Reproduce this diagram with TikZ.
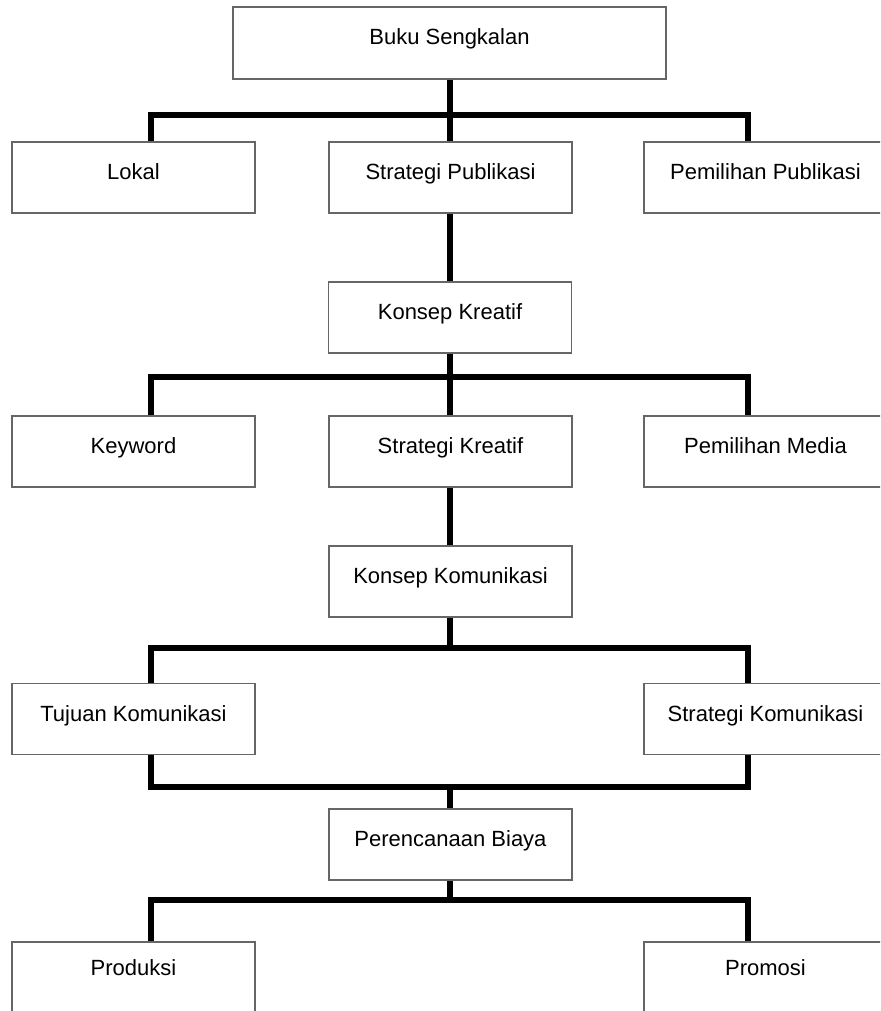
\documentclass[tikz,border=0pt]{standalone}
\usepackage{fontspec}
\setmainfont{Liberation Sans}
\begin{document}
\begin{tikzpicture}[x=1pt,y=-1pt,
  box/.style={draw=black!60, line width=1.8pt, fill=white,
    minimum width=243pt, minimum height=71pt, inner sep=0pt,
    font=\fontsize{22}{26}\selectfont, text=black,
    text height=10pt, text depth=6pt},
  lowtext/.style={text height=2pt, text depth=7pt},
  conn/.style={line width=6pt, line join=miter}]
\path[use as bounding box, clip] (0,0) rectangle (880,1011);
\fill[white] (0,0) rectangle (880,1011);
% column and bar positions
\coordinate (xl) at (151,0);
\coordinate (xc) at (449.5,0);
\coordinate (xr) at (748,0);
\coordinate (y1) at (0,115);
\coordinate (y2) at (0,377);
\coordinate (y3) at (0,648);
\coordinate (y4) at (0,787);
\coordinate (y5) at (0,900);
% nodes
\node[box, minimum width=433pt, minimum height=72pt] (top) at (449.5,43) {Buku Sengkalan};
\node[box] (lokal) at (133.5,177.5) {Lokal};
\node[box] (sp) at (450.5,177.5) {Strategi Publikasi};
\node[box] (pp) at (765.5,177.5) {Pemilihan Publikasi};
\node[box] (kk) at (450,317.5) {Konsep Kreatif};
\node[box] (kw) at (133.5,451.5) {Keyword};
\node[box] (sk) at (450.5,451.5) {Strategi Kreatif};
\node[box] (pm) at (765.5,451.5) {Pemilihan Media};
\node[box] (kkom) at (450.5,581.5) {Konsep Komunikasi};
\node[box] (tk) at (133.5,719) {Tujuan Komunikasi};
\node[box] (skom) at (765.5,719) {Strategi Komunikasi};
\node[box] (pb) at (450.5,844.5) {Perencanaan Biaya};
\node[box, lowtext] (prod) at (133.5,977.5) {Produksi};
\node[box, lowtext] (prom) at (765.5,977.5) {Promosi};
% connectors
\draw[conn] (top.south -| xc) -- (sp.north -| xc);
\draw[conn] (lokal.north -| xl) -- (xl |- y1) -- (xr |- y1) -- (pp.north -| xr);
\draw[conn] (sp.south -| xc) -- (kk.north -| xc);
\draw[conn] (kk.south -| xc) -- (sk.north -| xc);
\draw[conn] (kw.north -| xl) -- (xl |- y2) -- (xr |- y2) -- (pm.north -| xr);
\draw[conn] (sk.south -| xc) -- (kkom.north -| xc);
\draw[conn] (kkom.south -| xc) -- (xc |- y3);
\draw[conn] (tk.north -| xl) -- (xl |- y3) -- (xr |- y3) -- (skom.north -| xr);
\draw[conn] (tk.south -| xl) -- (xl |- y4) -- (xr |- y4) -- (skom.south -| xr);
\draw[conn] (xc |- y4) -- (pb.north -| xc);
\draw[conn] (pb.south -| xc) -- (xc |- y5);
\draw[conn] (prod.north -| xl) -- (xl |- y5) -- (xr |- y5) -- (prom.north -| xr);
\end{tikzpicture}
\end{document}
